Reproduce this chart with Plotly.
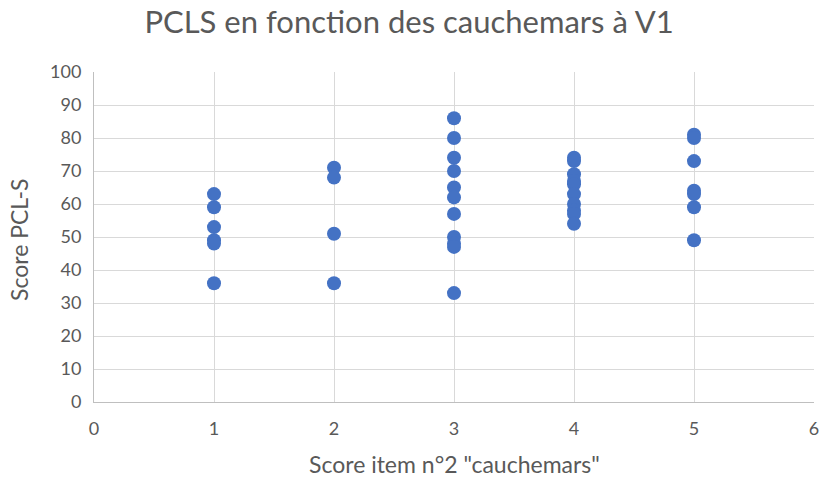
import plotly.graph_objects as go

x1 = [1, 1, 1, 1, 1, 1]
y1 = [63, 59, 53, 49, 48, 36]
x2 = [2, 2, 2, 2]
y2 = [71, 68, 51, 36]
x3 = [3] * 11
y3 = [86, 80, 74, 70, 65, 62, 57, 50, 48, 47, 33]
x4 = [4] * 10
y4 = [74, 73, 69, 67, 66, 63, 60, 58, 57, 54]
x5 = [5] * 7
y5 = [81, 80, 73, 64, 63, 59, 49]

xs = x1 + x2 + x3 + x4 + x5
ys = y1 + y2 + y3 + y4 + y5

font = "Lato, Open Sans, sans-serif"
grey = "#595959"

fig = go.Figure()
fig.add_trace(go.Scatter(
    x=xs, y=ys, mode="markers",
    marker=dict(size=14, color="#4472C4", line=dict(width=0)),
    showlegend=False,
))

fig.update_layout(
    width=824, height=479,
    margin=dict(l=94, r=10, t=72, b=77),
    paper_bgcolor="white", plot_bgcolor="white",
    font=dict(family=font, color=grey, size=18),
    title=dict(text="PCLS en fonction des cauchemars à V1",
               x=409 / 824, xanchor="center", y=1 - 22 / 479, yanchor="middle",
               font=dict(family=font, size=31, color=grey)),
    annotations=[
        dict(text='Score item n°2 "cauchemars"', xref="paper", yref="paper",
             x=(454 - 94) / 720, y=(402 - 464) / 330, xanchor="center", yanchor="middle",
             showarrow=False, font=dict(family=font, size=23, color=grey)),
        dict(text="Score PCL-S", xref="paper", yref="paper", textangle=-90,
             x=(19 - 94) / 720, y=(402 - 240) / 330, xanchor="center", yanchor="middle",
             showarrow=False, font=dict(family=font, size=23, color=grey)),
    ],
)
fig.update_xaxes(
    range=[0, 6], dtick=1, tick0=0, automargin=False,
    showgrid=True, gridcolor="#D9D9D9", gridwidth=1,
    zeroline=False, showline=True, linecolor="#BFBFBF", linewidth=1,
    ticks="", ticklabelstandoff=10, tickfont=dict(size=18, color=grey, family=font),
)
fig.update_yaxes(
    range=[0, 100], dtick=10, tick0=0, automargin=False,
    showgrid=True, gridcolor="#D9D9D9", gridwidth=1,
    zeroline=False, showline=True, linecolor="#BFBFBF", linewidth=1,
    ticks="", ticklabelstandoff=8, tickfont=dict(size=18, color=grey, family=font),
)

fig.write_html(
    "out.html",
    config={"displayModeBar": False},
    post_script="document.body.style.margin='0';document.body.style.overflow='hidden';",
)
